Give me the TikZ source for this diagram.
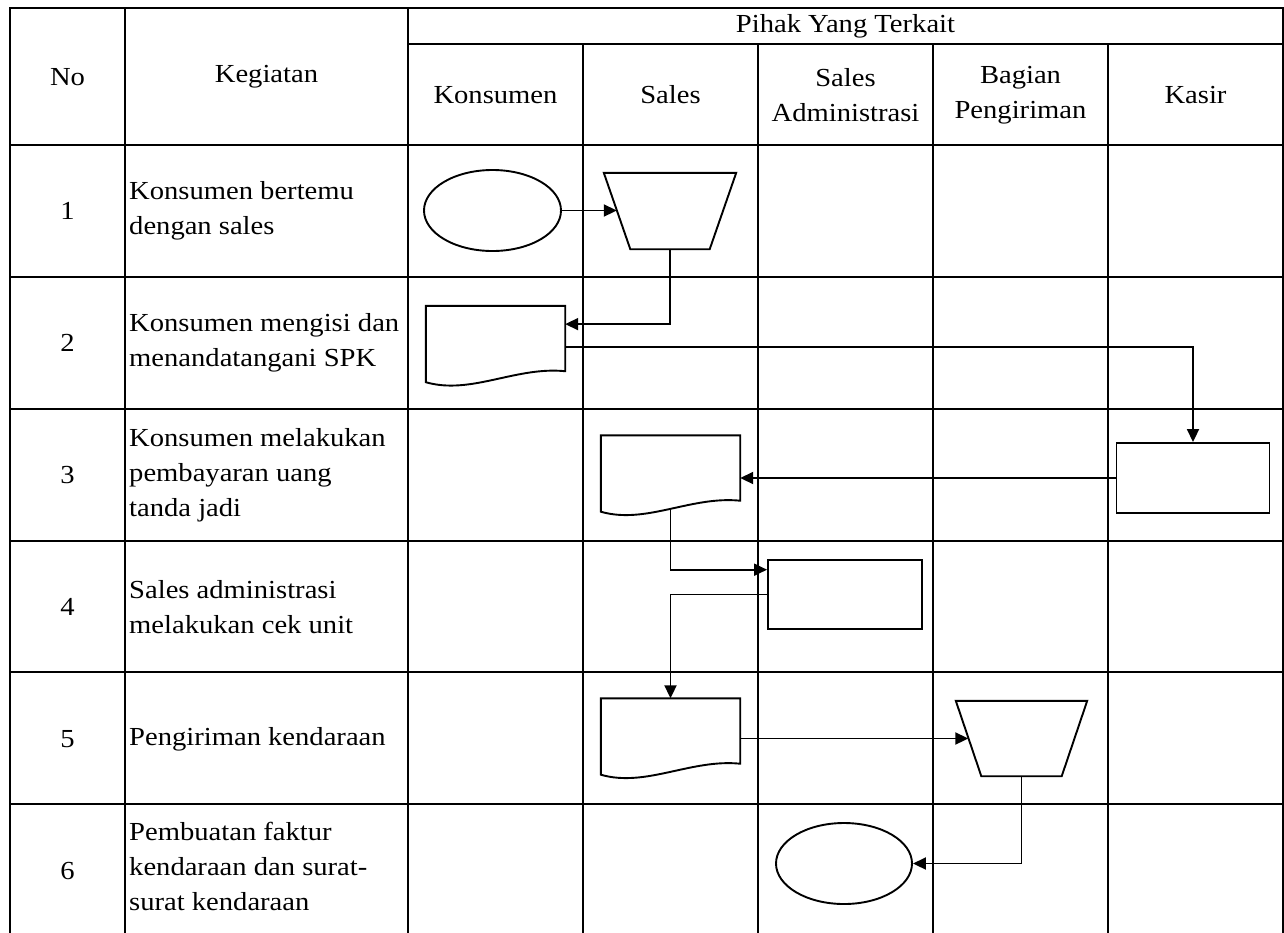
\documentclass[tikz,border=0pt]{standalone}
\usepackage{fontspec}
\setmainfont{Liberation Serif}[FakeStretch=1.1]
\usetikzlibrary{arrows.meta, positioning, shapes.geometric, calc}

\begin{document}
\begin{tikzpicture}[
    x=1pt, y=-1pt,
    every node/.style={font=\fontsize{26}{35}\selectfont, align=center, inner sep=0pt},
    grid/.style={line width=2.9pt, line cap=rect},
    shp/.style={draw, line width=1.9pt},
    flow/.style={line width=1.9pt, -{Triangle[length=13pt, width=12pt]}},
    term/.style={shp, ellipse, minimum width=137pt, minimum height=81pt},
    manual/.style={rectangle, minimum width=132pt, minimum height=76pt},
    proc/.style={shp, rectangle, minimum width=153pt, minimum height=70pt},
    doc/.style={rectangle, minimum width=139pt, minimum height=65pt},
    kegiatan/.style={anchor=west, align=left}
]
\useasboundingbox (0,0) rectangle (1284,932);

% table
\draw[grid] (10,932) -- (10,8) -- (1283,8) -- (1283,932);
\foreach \y in {145,277,409,541,672,804}
    \draw[grid] (10,\y) -- (1283,\y);
\foreach \x in {125,408}
    \draw[grid] (\x,8) -- (\x,932);
\draw[grid] (408,44) -- (1283,44);
\foreach \x in {583,758,933,1108}
    \draw[grid] (\x,44) -- (\x,932);

% header
\node (no) at (67.5,77) {No};
\node (keg) at (266.5,77) {Kegiatan};
\node (pihak) at (845.5,26) {Pihak Yang Terkait};
\node (konsumen) at (495.5,95) {Konsumen};
\node (sales) at (670.5,95) {Sales};
\node (admin) at (845.5,95) {Sales\\Administrasi};
\node (kirim) at (1020.5,95) {Bagian\\Pengiriman};
\node (kasir) at (1195.5,95) {Kasir};

% rows
\foreach \i in {1,...,6}
    \node (n\i) at (67.5,{211+132*(\i-1)}) {\i};
\node[kegiatan] (k1) at (129,211) {Konsumen bertemu\\dengan sales};
\node[kegiatan] (k2) at (129,343) {Konsumen mengisi dan\\menandatangani SPK};
\node[kegiatan] (k3) at (129,475) {Konsumen melakukan\\pembayaran uang\\tanda jadi};
\node[kegiatan] (k4) at (129,607) {Sales administrasi\\melakukan cek unit};
\node[kegiatan] (k5) at (129,739) {Pengiriman kendaraan};
\node[kegiatan] (k6) at (129,866) {Pembuatan faktur\\kendaraan dan surat-\\surat kendaraan};

% symbols
\node[term] (e1) at (492.5,210.5) {};
\node[manual] (t1) at (670,211) {};
\node[doc] (d2) at (495.5,338.5) {};
\node[proc] (ks) at (1193,478) {};
\node[doc] (d3) at (670.5,468) {};
\node[proc, minimum width=154pt, minimum height=69pt] (a4) at (845,594.5) {};
\node[doc] (d5) at (670.5,731) {};
\node[manual, minimum width=131pt, minimum height=75pt] (t5) at (1021.5,738.5) {};
\node[term, minimum width=136pt] (e6) at (844,863.5) {};

\foreach \t/\s in {t1/26.5, t5/25.5}
    \draw[shp] (\t.north west) -- (\t.north east) -- ($(\t.south east)+(-\s,0)$)
        -- ($(\t.south west)+(\s,0)$) -- cycle;
\foreach \d in {d2,d3,d5}
    \draw[shp] (\d.south east) -- (\d.north east) -- (\d.north west)
        -- ($(\d.south west)+(0,11)$)
        .. controls ($(\d.south west)+(45,24)$) and ($(\d.south west)+(90,-5)$) .. (\d.south east)
        -- cycle;

% flow
\draw[flow] (e1.east) -- ($(t1.west)+(13,-0.5)$);
\draw[flow] (t1) |- ($(d2.north east)!0.28!(d2.south east)$);
\draw[flow] ($(d2.north east)!0.63!(d2.south east)$) -| (ks);
\draw[flow] (ks.west) -- (ks.west -| d3.east);
\draw[flow] ($(d3.south)+(0,9.5)$) |- ($(a4.north west)!0.15!(a4.south west)$);
\draw[flow] (a4.west) -| (d5);
\draw[flow] (d5.east |- t5.center) -- ($(t5.west)+(12.5,0)$);
\draw[flow] (t5) |- (e6);
\end{tikzpicture}
\end{document}
